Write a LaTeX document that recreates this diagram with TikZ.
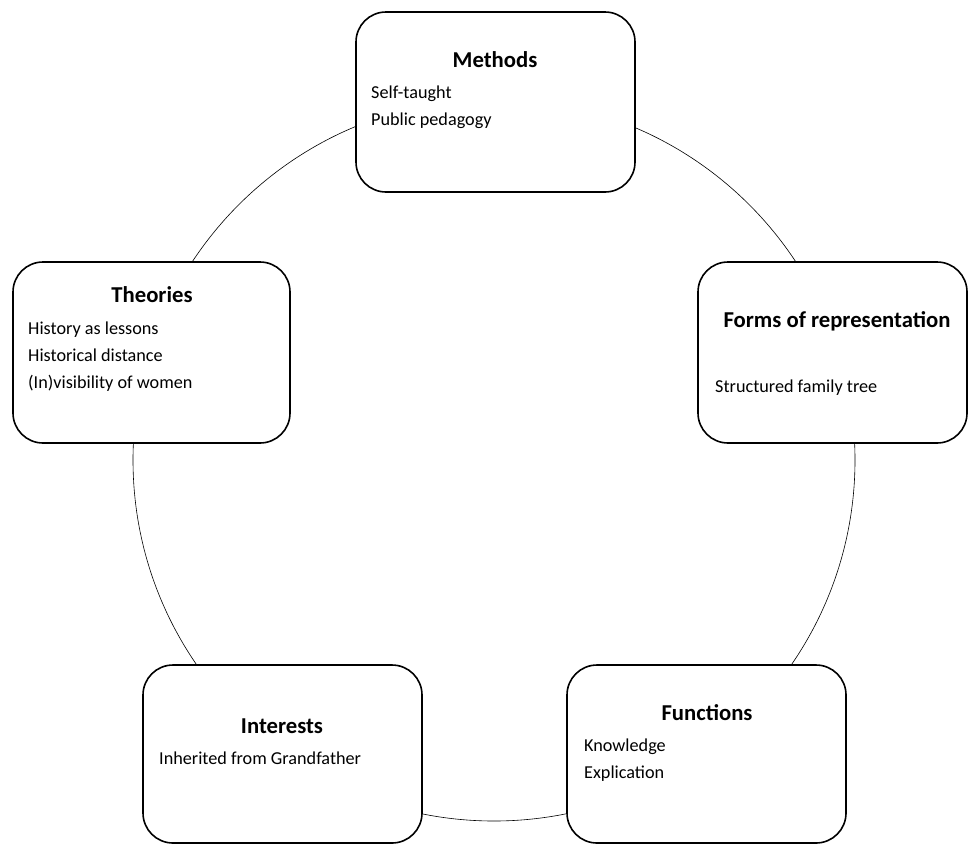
\documentclass[tikz,border=0pt]{standalone}
\usepackage{fontspec}
\setmainfont{Carlito}
\begin{document}
\begin{tikzpicture}[x=1pt,y=-1pt,
  box/.style={draw=black, line width=1.6pt, rounded corners=30pt, fill=white},
  ttl/.style={font=\fontsize{22.7}{26}\selectfont\bfseries, inner sep=0pt, anchor=base},
  txt/.style={font=\fontsize{18.2}{21}\selectfont, inner sep=0pt, anchor=base west}]
\useasboundingbox (0,0) rectangle (968,844);
\draw[line width=0.6pt] (494,460) circle[radius=361];
% boxes
\draw[box] (356,12) rectangle (635,192);
\draw[box] (13,262) rectangle (290,443);
\draw[box] (698,262) rectangle (967,443);
\draw[box] (143,665) rectangle (422,843);
\draw[box] (567,665) rectangle (846,843);
% Methods
\node[ttl] (mt) at (495,67) {Methods};
\node[txt] (m1) at (371,98) {Self-taught};
\node[txt] (m2) at (371,125) {Public pedagogy};
% Theories
\node[ttl] (tt) at (152,302) {Theories};
\node[txt] (t1) at (28,334) {History as lessons};
\node[txt] (t2) at (28,361) {Historical distance};
\node[txt] (t3) at (28,388) {(In)visibility of women};
% Forms
\node[ttl] (ft) at (837,327) {Forms of representation};
\node[txt] (f1) at (715,392) {Structured family tree};
% Interests
\node[ttl] (it) at (282,733) {Interests};
\node[txt] (i1) at (159,764) {Inherited from Grandfather};
% Functions
\node[ttl] (fnt) at (707,720) {Functions};
\node[txt] (fn1) at (584,751) {Knowledge};
\node[txt] (fn2) at (584,778) {Explication};
\end{tikzpicture}
\end{document}
